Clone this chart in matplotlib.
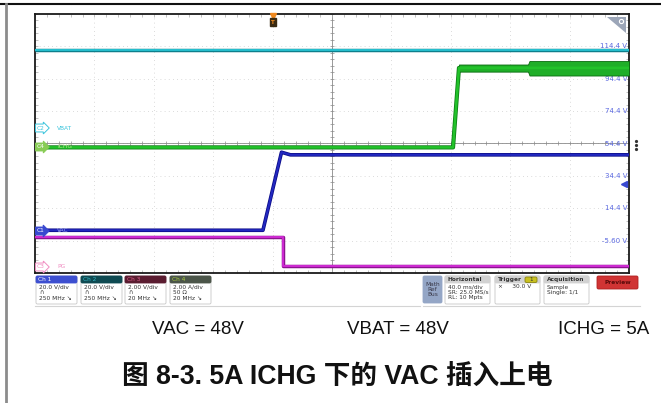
import numpy as np
import matplotlib
matplotlib.use("Agg")
import matplotlib.pyplot as plt
from matplotlib.patches import FancyBboxPatch, Polygon

W, H = 661, 403

# scope screen: 10 x 8 divisions, 40 ms/div, 20 V/div
t_lim = (-160, 240)
v_lim = (-25.6, 134.4)

# traces (time in ms, level in screen volts)
vbat_t = [-160, 240]
vbat_v = [112.0, 112.0]

ichg_t = [-160, 121.5, 125.5, 240]
ichg_v = [52.0, 52.0, 101.1, 101.1]
# envelope of the noisy charge current after it steps up
ichg_env_t = [125.5, 172.0, 173.0, 240]
ichg_env_lo = [98.8, 98.8, 96.4, 96.4]
ichg_env_hi = [103.2, 103.2, 105.4, 105.4]

vac_t = [-160, -6.5, 6.0, 12.0, 240]
vac_v = [0.8, 0.8, 49.0, 47.4, 47.4]

pg_t = [-160, 7.0, 7.0, 240]
pg_v = [-3.3, -3.3, -21.2, -21.2]

level_labels = ["114.4 V", "94.4 V", "74.4 V", "54.4 V", "34.4 V", "14.4 V", "-5.60 V"]
level_values = [114.4, 94.4, 74.4, 54.4, 34.4, 14.4, -5.6]

captions = ["VAC = 48V", "VBAT = 48V", "ICHG = 5A"]
title = "图 8-3. 5A ICHG 下的 VAC 插入上电"

fig = plt.figure(figsize=(W / 100, H / 100), dpi=100)

# ---- scope screen ----
ax = fig.add_axes([35 / W, 1 - 273 / H, 594 / W, 259 / H], zorder=1)
ax.set_xlim(*t_lim)
ax.set_ylim(*v_lim)
for tv in np.arange(-120, 240, 40):
    ax.axvline(tv, color="#cfcfcf", lw=0.6, ls=(0, (1, 4)), zorder=0)
for vv in np.arange(114.4, -25, -20):
    ax.axhline(vv, color="#cfcfcf", lw=0.6, ls=(0, (1, 4)), zorder=0)
# center crosshair with minor ticks
ax.axvline(40, color="#8a8a8a", lw=0.6, zorder=0.5)
ax.axhline(54.4, color="#8a8a8a", lw=0.6, zorder=0.5)
mt = np.arange(-160, 241, 8)
mv = np.arange(-25.6, 134.5, 4)
ax.plot(mt, np.full(mt.size, 54.4), ls="none", marker="|", ms=3, mew=0.5, color="#8a8a8a", zorder=0.5)
ax.plot(np.full(mv.size, 40), mv, ls="none", marker="_", ms=3, mew=0.5, color="#8a8a8a", zorder=0.5)
ax.set_xticks(mt)
ax.set_yticks(mv)
ax.tick_params(direction="in", length=2, width=0.5, color="#a8a8a8",
               top=True, right=True, labelbottom=False, labelleft=False)
for s in ax.spines.values():
    s.set_color("#1a1a1a")
    s.set_linewidth(1.3)

for lab, val in zip(level_labels, level_values):
    ax.text(0.997, val, lab, transform=ax.get_yaxis_transform(), ha="right", va="center",
            fontsize=5, color="#5a68e0", zorder=1)

# VBAT (cyan)
ax.plot(vbat_t, vbat_v, color="#0e7f8c", lw=2.5, zorder=3, solid_capstyle="butt")
ax.plot(vbat_t, vbat_v, color="#28c4d4", lw=1.3, zorder=3.1, solid_capstyle="butt")
# ICHG (green)
ax.plot(ichg_t, ichg_v, color="#0a7a12", lw=3.0, zorder=3, solid_capstyle="butt")
ax.plot(ichg_t, ichg_v, color="#22c22a", lw=1.9, zorder=3.1, solid_capstyle="butt")
ax.fill_between(ichg_env_t, ichg_env_lo, ichg_env_hi, color="#1fae28", ec="#0a6a10", lw=0.6, zorder=3)
# VAC (blue)
ax.plot(vac_t, vac_v, color="#0a0a86", lw=2.6, zorder=4, solid_capstyle="butt")
ax.plot(vac_t, vac_v, color="#2228c0", lw=1.5, zorder=4.1, solid_capstyle="butt")
# PG (magenta)
ax.plot(pg_t, pg_v, color="#8a128e", lw=2.5, zorder=3, solid_capstyle="butt")
ax.plot(pg_t, pg_v, color="#cc2ad0", lw=1.5, zorder=3.1, solid_capstyle="butt")

# ---- overlay in pixel coordinates ----
ov = fig.add_axes([0, 0, 1, 1], zorder=2)
ov.set_xlim(0, W)
ov.set_ylim(H, 0)
ov.axis("off")
ov.patch.set_alpha(0)

# page frame
ov.plot([0, W], [3.5, 3.5], color="#111111", lw=1.5)
ov.plot([5.5, 5.5], [3.5, H], color="#8c8c8c", lw=2)

# channel badges on the left edge
def badge(y, tag, name, face, edge, tcol, ncol):
    ov.text(37, y, tag, fontsize=4.2, color=tcol, va="center", ha="left",
            bbox=dict(boxstyle="rarrow,pad=0.25", fc=face, ec=edge, lw=0.7))
    ov.text(57, y, name, fontsize=4.2, color=ncol, va="center", ha="left")

badge(128, "C2", "VBAT", "white", "#3ac4dc", "#3ac4dc", "#3ac4dc")
badge(147, "C4", "ICHG", "#88cc55", "#88cc55", "white", "#b8e890")
badge(231, "C1", "VAC", "#3848d0", "#3848d0", "white", "#a0a8f4")
badge(267, "C3", "PG", "white", "#f08cc0", "#f08cc0", "#f08cc0")

# trigger marker
ov.plot(273, 15.5, marker="v", color="#f08a20", ms=4)
ov.text(273, 22, "T", fontsize=4, color="#f08a20", ha="center", va="center",
        fontweight="bold", bbox=dict(boxstyle="square,pad=0.25", fc="#3a2a12", ec="#3a2a12"))

# zoom icon, right-hand markers
ov.add_patch(Polygon([(607, 17), (626, 17), (626, 33)], closed=True, fc="#9ca6b8", ec="none"))
ov.plot(621, 21, marker="o", ms=3, mfc="none", mec="white", mew=0.8)
ov.plot([636, 636, 636], [141, 145, 149], ls="none", marker="o", ms=1.3, color="#333333")
ov.plot(624, 184, marker="<", ms=4.5, color="#3848d0")

# ---- info boxes below the screen ----
def rbox(x0, y0, x1, y1, fc, ec="#c8c8c8", lw=0.6):
    ov.add_patch(FancyBboxPatch((x0, y0), x1 - x0, y1 - y0,
                                boxstyle="round,pad=0,rounding_size=1.5",
                                fc=fc, ec=ec, lw=lw))

chan_boxes = [
    (36, 77, "Ch 1", "#3d4fd0", "white", ["20.0 V/div", "\u2229", "250 MHz \u2198"]),
    (81, 122, "Ch 2", "#0e4a52", "#37b8c6", ["20.0 V/div", "\u2229", "250 MHz \u2198"]),
    (125, 166, "Ch 3", "#5a1c30", "#d8608a", ["2.00 V/div", "\u2229", "20 MHz \u2198"]),
    (170, 211, "Ch 4", "#4b5549", "#a8cc40", ["2.00 A/div", "50 \u03a9", "20 MHz \u2198"]),
]
for x0, x1, head, hfc, hcol, lines in chan_boxes:
    rbox(x0, 276, x1, 304, "white")
    rbox(x0, 276, x1, 283, hfc, ec=hfc)
    ov.text(x0 + 2, 279.8, head, fontsize=4.2, color=hcol, va="center")
    for k, ln in enumerate(lines):
        ov.text(x0 + 3, 287 + 5.5 * k, ln, fontsize=4.2, color="#333333", va="center")

ov.plot([35, 420], [306, 306], color="#d4d4d4", lw=0.8)
ov.plot([423, 640], [306, 306], color="#d4d4d4", lw=0.8)

rbox(423, 276, 442, 303, "#94a6c6", ec="#94a6c6")
ov.text(432.5, 289.5, "Math\nRef\nBus", fontsize=4.2, color="#3a3a4a", ha="center", va="center",
        linespacing=1.0)

info_boxes = [
    (445, 490, "Horizontal", ["40.0 ms/div", "SR: 25.0 MS/s", "RL: 10 Mpts"]),
    (495, 540, "Trigger", ["\u00d7     30.0 V"]),
    (544, 589, "Acquisition", ["Sample", "Single: 1/1"]),
]
for x0, x1, head, lines in info_boxes:
    rbox(x0, 276, x1, 304, "white")
    rbox(x0, 276, x1, 283, "#d2d2d2", ec="#d2d2d2")
    ov.text(x0 + 3, 279.8, head, fontsize=4.2, color="#333333", va="center", fontweight="bold")
    for k, ln in enumerate(lines):
        ov.text(x0 + 3, 287 + 5.5 * k, ln, fontsize=4.2, color="#333333", va="center")
# trigger source chip
rbox(525, 277, 537, 282.5, "#c8c020", ec="#8a8410")
ov.text(531, 279.8, "1", fontsize=4, color="#333333", ha="center", va="center")

rbox(597, 276, 638, 289, "#d03434", ec="#b02020")
ov.text(617.5, 282.5, "Preview", fontsize=4.2, color="#5a0a0a", ha="center", va="center",
        fontweight="bold")

# ---- captions ----
for x, txt in zip([198, 398, 604], captions):
    ov.text(x, 329, txt, fontsize=13.5, family="Liberation Sans", ha="center", va="center",
            color="#111111")
ov.text(337, 377, title, fontsize=19.2, fontweight="bold",
        family=["Liberation Sans", "Noto Sans CJK SC"], ha="center", va="center", color="#111111")

fig.savefig("out.png", dpi=100)
